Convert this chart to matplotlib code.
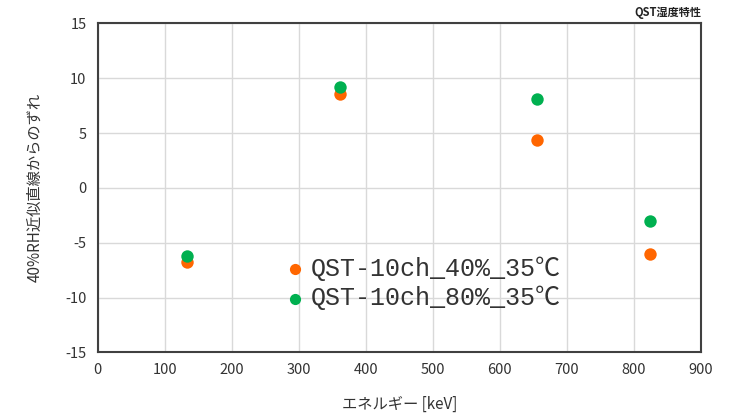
import matplotlib
matplotlib.use("Agg")
import matplotlib.pyplot as plt

plt.rcParams["axes.unicode_minus"] = False

energy = [133, 361, 656, 824]
dev_40 = [-6.8, 8.6, 4.4, -6.0]
dev_80 = [-6.2, 9.2, 8.1, -3.0]
series_labels = ["QST-10ch_40%_35℃", "QST-10ch_80%_35℃"]
x_ticks = [0, 100, 200, 300, 400, 500, 600, 700, 800, 900]
y_ticks = [-15, -10, -5, 0, 5, 10, 15]

jp = ["Noto Sans CJK JP", "DejaVu Sans"]

fig = plt.figure(figsize=(7.29, 4.19), dpi=100)
ax = fig.add_axes([0.134, 0.159, 0.8276, 0.785])

ax.scatter(energy, dev_40, s=80, color="#FF6600", label=series_labels[0], zorder=3, linewidths=0)
ax.scatter(energy, dev_80, s=80, color="#00B050", label=series_labels[1], zorder=3, linewidths=0)

ax.set_xlim(0, 900)
ax.set_ylim(-15, 15)
ax.set_xticks(x_ticks)
ax.set_yticks(y_ticks)
ax.grid(True, color="#D9D9D9", linewidth=1.0)
ax.set_axisbelow(True)
ax.tick_params(length=0, pad=8, labelsize=10.5, colors="#333333")
for lab in ax.get_xticklabels() + ax.get_yticklabels():
    lab.set_family(jp)
for s in ax.spines.values():
    s.set_color("#404040")
    s.set_linewidth(1.5)

ax.set_xlabel("エネルギー [keV]", family=jp, fontsize=11, color="#333333", labelpad=13)
ax.set_ylabel("40%RH近似直線からのずれ", family=jp, fontsize=11, color="#333333", labelpad=16)

fig.text(0.962, 0.985, "QST湿度特性", family=jp, fontsize=8, fontweight="bold",
         ha="right", va="top", color="#222222")

leg = ax.legend(loc="upper left", bbox_to_anchor=(0.282, 0.33), frameon=False,
                prop={"family": ["Liberation Mono", "Noto Sans CJK JP"], "size": 18},
                handletextpad=0.0, labelspacing=0.2, borderpad=0.0, handlelength=1.2,
                markerscale=0.9)
for t in leg.get_texts():
    t.set_color("#333333")

fig.savefig("out.png", dpi=100)
